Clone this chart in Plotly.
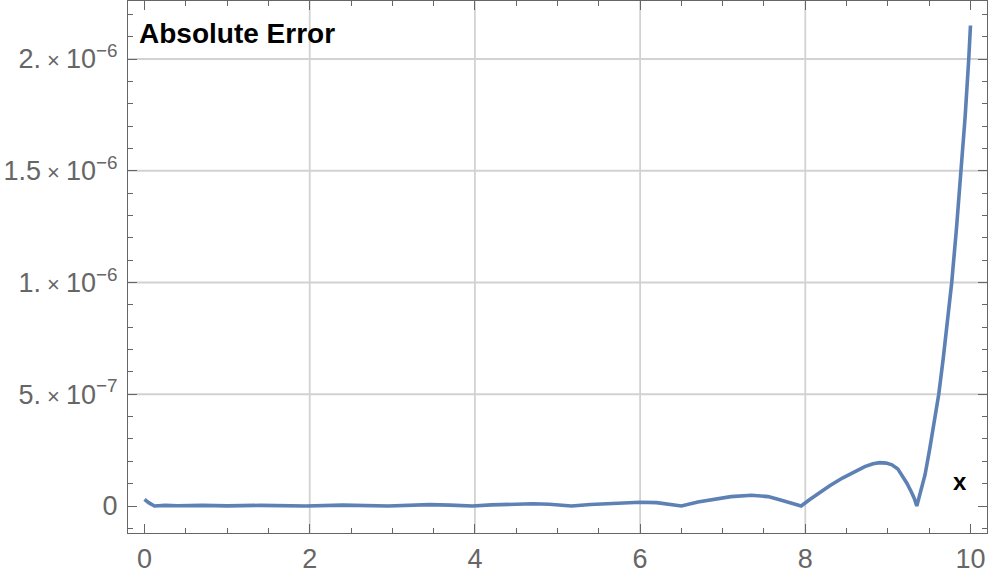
import plotly.graph_objects as go

# ---- data ----
x_vals = [0.00, 0.05, 0.12, 0.25, 0.40, 0.70, 1.00, 1.40, 1.95, 2.40, 2.95,
          3.20, 3.45, 3.70, 3.97, 4.20, 4.50, 4.70, 4.90, 5.05, 5.17,
          5.40, 5.70, 6.00, 6.20, 6.35, 6.50, 6.70, 6.90, 7.10, 7.35,
          7.45, 7.55, 7.69, 7.80, 7.95, 8.05, 8.15, 8.30, 8.45, 8.60,
          8.72, 8.82, 8.90, 8.98, 9.05, 9.12, 9.18, 9.23, 9.28, 9.32,
          9.35, 9.40, 9.45, 9.504, 9.56, 9.616, 9.67, 9.72, 9.773, 9.83,
          9.888, 9.935, 9.979, 10.00]
abs_error = [3.0e-8, 1.5e-8, 0.0, 3e-9, 1e-9, 3e-9, 5e-10, 3e-9, 0.0, 4e-9, 0.0,
             4e-9, 6e-9, 4e-9, 0.0, 5e-9, 9e-9, 1.0e-8, 8e-9, 4e-9, 0.0,
             7e-9, 1.3e-8, 1.65e-8, 1.5e-8, 9e-9, 0.0, 1.8e-8, 3.2e-8, 4.2e-8, 4.8e-8,
             4.6e-8, 4.2e-8, 2.8e-8, 1.7e-8, 0.0, 2.8e-8, 5.5e-8, 9.2e-8, 1.25e-7, 1.55e-7,
             1.76e-7, 1.89e-7, 1.94e-7, 1.92e-7, 1.84e-7, 1.66e-7, 1.33e-7, 1.02e-7, 6.6e-8, 3.4e-8,
             0.0, 6.5e-8, 1.4e-7, 2.5e-7, 3.7e-7, 5.0e-7, 6.6e-7, 8.2e-7, 1.0e-6, 1.24e-6,
             1.5e-6, 1.74e-6, 2.0e-6, 2.15e-6]

x_tick_vals = [0, 2, 4, 6, 8, 10]
x_tick_text = ["0", "2", "4", "6", "8", "10"]
y_tick_vals = [0, 5e-7, 1e-6, 1.5e-6, 2e-6]
y_tick_text = ["0",
               "5.<span style='font-size:22px'> × </span>10<sup>−7</sup>",
               "1.<span style='font-size:22px'> × </span>10<sup>−6</sup>",
               "1.5<span style='font-size:22px'> × </span>10<sup>−6</sup>",
               "2.<span style='font-size:22px'> × </span>10<sup>−6</sup>"]
grid_x = [2, 4, 6, 8]
grid_y = [5e-7, 1e-6, 1.5e-6, 2e-6]

X_RANGE = [-0.2, 10.2]
Y_RANGE = [-1.208e-7, 2.2595e-6]

FRAME = "#666666"
GRID = "#d2d2d2"
LINE = "#5E81B5"
FONT = "Liberation Sans, Arial, sans-serif"

fig = go.Figure()
fig.add_trace(go.Scatter(x=x_vals, y=abs_error, mode="lines",
                         line=dict(color=LINE, width=3.6), showlegend=False,
                         hoverinfo="skip"))

shapes = []
for gx in grid_x:
    shapes.append(dict(type="line", xref="x", yref="paper", x0=gx, x1=gx, y0=0, y1=1,
                       line=dict(color=GRID, width=1.8), layer="below"))
for gy in grid_y:
    shapes.append(dict(type="line", xref="paper", yref="y", x0=0, x1=1, y0=gy, y1=gy,
                       line=dict(color=GRID, width=1.8), layer="below"))

fig.update_layout(
    width=990, height=570,
    margin=dict(l=128, r=3, t=1, b=37, autoexpand=False),
    paper_bgcolor="white", plot_bgcolor="white",
    font=dict(family=FONT, size=27, color=FRAME),
    shapes=shapes,
    xaxis=dict(range=X_RANGE, showgrid=False, zeroline=False, automargin=False,
               showline=True, linecolor=FRAME, linewidth=1, mirror="allticks",
               tickmode="array", tickvals=x_tick_vals, ticktext=x_tick_text,
               ticks="inside", ticklen=9, tickwidth=1, tickcolor=FRAME,
               ticklabelstandoff=2,
               minor=dict(tickmode="linear", tick0=0, dtick=0.5, ticks="inside",
                          ticklen=5, tickwidth=1, tickcolor=FRAME, showgrid=False),
               tickfont=dict(size=27, color=FRAME, family=FONT)),
    yaxis=dict(range=Y_RANGE, showgrid=False, zeroline=False, automargin=False,
               showline=True, linecolor=FRAME, linewidth=1, mirror="allticks",
               tickmode="array", tickvals=y_tick_vals, ticktext=y_tick_text,
               ticks="inside", ticklen=9, tickwidth=1, tickcolor=FRAME,
               ticklabelstandoff=4,
               minor=dict(tickmode="linear", tick0=0, dtick=1e-7, ticks="inside",
                          ticklen=5, tickwidth=1, tickcolor=FRAME, showgrid=False),
               tickfont=dict(size=27, color=FRAME, family=FONT)),
    annotations=[
        dict(text="<b>Absolute Error</b>", xref="paper", yref="paper",
             x=0.011, y=0.938, xanchor="left", yanchor="middle", showarrow=False,
             font=dict(family=FONT, size=28, color="black")),
        dict(text="<b>x</b>", xref="paper", yref="paper",
             x=0.969, y=0.097, xanchor="center", yanchor="middle", showarrow=False,
             font=dict(family=FONT, size=24, color="black")),
    ],
)

fig.write_html("out.html",
               config={"displayModeBar": False},
               post_script="document.body.style.margin='0px';document.body.style.overflow='hidden';")
